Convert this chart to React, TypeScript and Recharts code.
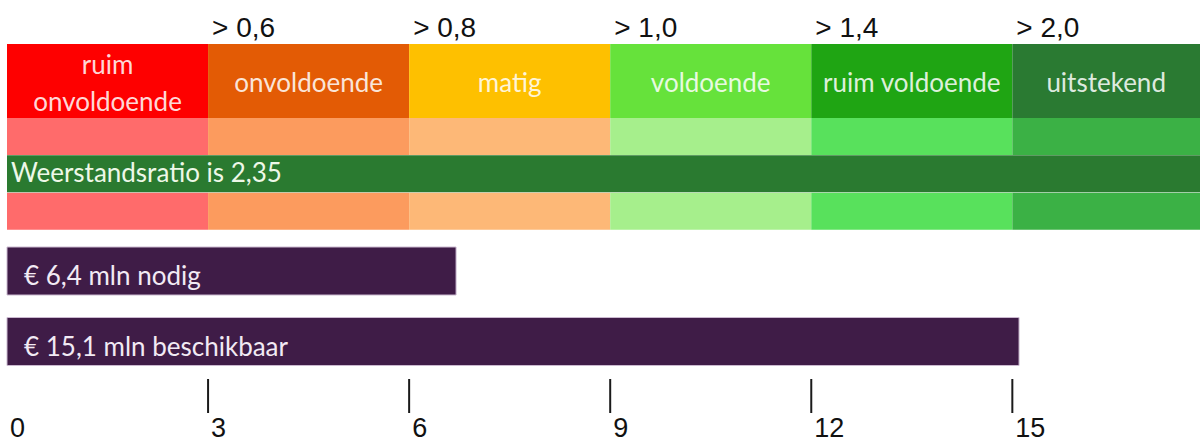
import React from "react";
import { BarChart, Bar, XAxis, YAxis, LabelList } from "recharts";

// x-as loopt van 0 tot de rechterrand van de figuur
const xMax = 17.8;

const klasseGrenzen = [3, 6, 9, 12, 15];
const grensLabels = ["> 0,6", "> 0,8", "> 1,0", "> 1,4", "> 2,0"];

const klasseNamen = [
  "ruim\nonvoldoende",
  "onvoldoende",
  "matig",
  "voldoende",
  "ruim voldoende",
  "uitstekend",
];
const klasseBreedte = [3, 3, 3, 3, 3, 2.8];
const klasseKleuren = ["#fe0000", "#e35b05", "#fec000", "#66e23b", "#1fa513", "#2a7a32"];
const lichteKleuren = ["#ff6b6b", "#fc9b5e", "#fdb877", "#a6ef8c", "#58e15c", "#3bb145"];

const ratioTekst = "Weerstandsratio is 2,35";
const ratioKleur = "#2a7a30";

const capaciteitNamen = ["€ 6,4 mln nodig", "€ 15,1 mln beschikbaar"];
const capaciteitWaarden = [6.7, 15.1];

const asTicks = [0, 3, 6, 9, 12, 15];

const calibriAchtig = { fontFamily: "Lato, 'Open Sans', sans-serif", fontSize: 26 };
const arialAchtig = "'Liberation Sans', Arial, sans-serif";

const segmenten = Object.fromEntries(klasseBreedte.map((w, i) => [`k${i}`, w]));
const klasseRij = [{ naam: "klasse", ...segmenten }];
const bandRijen = [
  { naam: "boven", ...segmenten, ratio: 0 },
  { naam: "ratio", ratio: xMax },
  { naam: "onder", ...segmenten, ratio: 0 },
];
const capaciteitRijen = capaciteitNamen.map((naam, i) => ({ naam, waarde: capaciteitWaarden[i] }));

const GrensTick = (props: any) => {
  const { x, y, payload } = props;
  const i = klasseGrenzen.indexOf(payload.value);
  return (
    <text x={x + 4} y={y - 7} fontFamily={arialAchtig} fontSize={28} fill="#111" textAnchor="start">
      {grensLabels[i]}
    </text>
  );
};

const AsTick = (props: any) => {
  const { x, y, payload } = props;
  return (
    <g>
      {payload.value !== 0 && (
        <line x1={x} x2={x} y1={y + 2} y2={y + 36} stroke="#1a1a1a" strokeWidth={2} />
      )}
      <text x={x + 3} y={y + 60} fontFamily={arialAchtig} fontSize={27} fill="#111" textAnchor="start">
        {payload.value}
      </text>
    </g>
  );
};

const KlasseLabel = (props: any) => {
  const { x, y, width, height, tekst } = props;
  const regels = String(tekst).split("\n");
  const cx = x + width / 2;
  const eerste = y + height / 2 + 11 - ((regels.length - 1) * 37) / 2;
  return (
    <text textAnchor="middle" style={calibriAchtig} fill="#ffffff" fillOpacity={0.86}>
      {regels.map((r, j) => (
        <tspan key={j} x={cx} y={eerste + j * 37}>
          {r}
        </tspan>
      ))}
    </text>
  );
};

const RatioLabel = (props: any) => {
  const { x, y, height, value } = props;
  if (!value) return null;
  return (
    <text x={x + 4} y={y + height / 2 + 8} style={calibriAchtig} fill="#eef8e8">
      {ratioTekst}
    </text>
  );
};

const CapaciteitLabel = (props: any) => {
  const { x, y, height, value } = props;
  return (
    <text x={x + 17} y={y + height / 2 + 14} style={calibriAchtig} fill="#f2eaf4">
      {value}
    </text>
  );
};

export default function App() {
  return (
    <div style={{ width: 1200, height: 443, background: "#fff", overflow: "hidden" }}>
      <style>{"body{margin:0}"}</style>
      <BarChart
        width={1200}
        height={118}
        layout="vertical"
        data={klasseRij}
        margin={{ top: 0, right: 0, bottom: 0, left: 7 }}
        barCategoryGap={0}
      >
        <XAxis
          type="number"
          orientation="top"
          domain={[0, xMax]}
          ticks={klasseGrenzen}
          interval={0}
          height={44}
          axisLine={false}
          tickLine={false}
          tickSize={0}
          tickMargin={0}
          tick={(p: any) => <GrensTick {...p} />}
        />
        <YAxis type="category" dataKey="naam" hide />
        {klasseBreedte.map((_, i) => (
          <Bar key={i} dataKey={`k${i}`} stackId="a" fill={klasseKleuren[i]} isAnimationActive={false}>
            <LabelList
              dataKey={`k${i}`}
              content={(p: any) => <KlasseLabel {...p} tekst={klasseNamen[i]} />}
            />
          </Bar>
        ))}
      </BarChart>

      <BarChart
        width={1200}
        height={112}
        layout="vertical"
        data={bandRijen}
        margin={{ top: 0, right: 0, bottom: 0, left: 7 }}
        barCategoryGap={0}
      >
        <XAxis type="number" domain={[0, xMax]} hide />
        <YAxis type="category" dataKey="naam" hide />
        {klasseBreedte.map((_, i) => (
          <Bar key={i} dataKey={`k${i}`} stackId="a" fill={lichteKleuren[i]} isAnimationActive={false} />
        ))}
        <Bar dataKey="ratio" stackId="a" fill={ratioKleur} isAnimationActive={false}>
          <LabelList dataKey="ratio" content={(p: any) => <RatioLabel {...p} />} />
        </Bar>
      </BarChart>

      <BarChart
        width={1200}
        height={213}
        layout="vertical"
        data={capaciteitRijen}
        margin={{ top: 6, right: 0, bottom: 0, left: 7 }}
        barSize={48}
      >
        <XAxis
          type="number"
          domain={[0, xMax]}
          ticks={asTicks}
          interval={0}
          height={66}
          axisLine={false}
          tickLine={false}
          tickSize={0}
          tickMargin={0}
          tick={(p: any) => <AsTick {...p} />}
        />
        <YAxis type="category" dataKey="naam" hide />
        <Bar dataKey="waarde" fill="#3f1c47" stroke="#cbb9d0" strokeWidth={1} isAnimationActive={false}>
          <LabelList dataKey="naam" content={(p: any) => <CapaciteitLabel {...p} />} />
        </Bar>
      </BarChart>
    </div>
  );
}
